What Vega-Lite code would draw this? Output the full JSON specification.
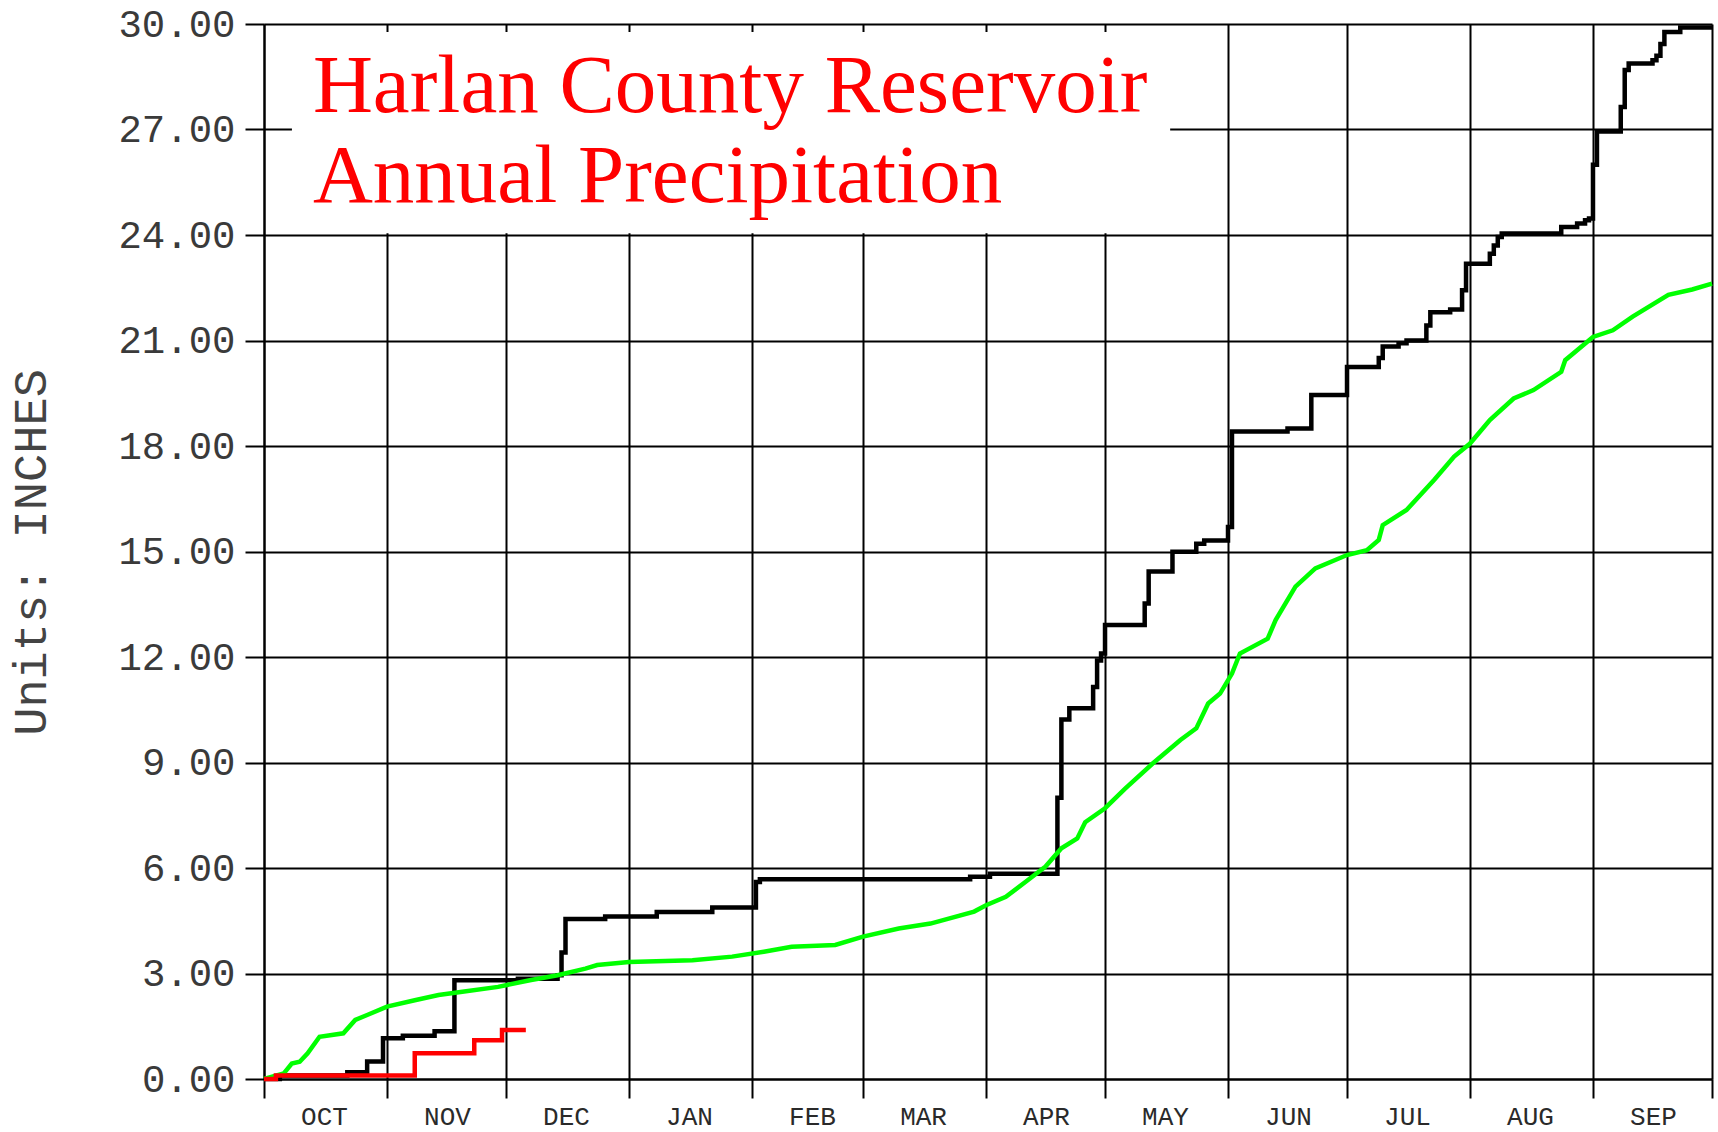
{
  "$schema": "https://vega.github.io/schema/vega-lite/v6.json",
  "width": 1448,
  "height": 1055,
  "autosize": {"type": "none"},
  "padding": {"left": 264, "top": 24, "right": 6, "bottom": 53},
  "background": "white",
  "view": {"stroke": null},
  "config": {
    "axis": {
      "gridColor": "#000000",
      "gridWidth": 2,
      "gridOpacity": 1,
      "domainColor": "#000000",
      "domainWidth": 2,
      "tickColor": "#000000",
      "tickWidth": 2,
      "tickSize": 19,
      "labelFlush": false,
      "labelOverlap": false,
      "labelBound": false
    }
  },
  "datasets": {
    "black": [
      {"date": "2013-10-01T00:00:00", "value": 0.0},
      {"date": "2013-10-05T00:00:00", "value": 0.1},
      {"date": "2013-10-22T00:00:00", "value": 0.19},
      {"date": "2013-10-27T00:00:00", "value": 0.5},
      {"date": "2013-10-31T00:00:00", "value": 1.16},
      {"date": "2013-11-05T00:00:00", "value": 1.23},
      {"date": "2013-11-13T00:00:00", "value": 1.36},
      {"date": "2013-11-18T00:00:00", "value": 2.81},
      {"date": "2013-12-04T00:00:00", "value": 2.85},
      {"date": "2013-12-14T00:00:00", "value": 2.95},
      {"date": "2013-12-15T00:00:00", "value": 3.6},
      {"date": "2013-12-16T00:00:00", "value": 4.55},
      {"date": "2013-12-26T00:00:00", "value": 4.62},
      {"date": "2014-01-08T00:00:00", "value": 4.75},
      {"date": "2014-01-22T00:00:00", "value": 4.88},
      {"date": "2014-02-02T00:00:00", "value": 5.6},
      {"date": "2014-02-03T00:00:00", "value": 5.68},
      {"date": "2014-03-28T00:00:00", "value": 5.75},
      {"date": "2014-04-02T00:00:00", "value": 5.84},
      {"date": "2014-04-19T00:00:00", "value": 8.0},
      {"date": "2014-04-20T00:00:00", "value": 10.22},
      {"date": "2014-04-22T00:00:00", "value": 10.54},
      {"date": "2014-04-28T00:00:00", "value": 11.15},
      {"date": "2014-04-29T00:00:00", "value": 11.9},
      {"date": "2014-04-30T00:00:00", "value": 12.1},
      {"date": "2014-05-01T00:00:00", "value": 12.91},
      {"date": "2014-05-11T00:00:00", "value": 13.52},
      {"date": "2014-05-12T00:00:00", "value": 14.43},
      {"date": "2014-05-18T00:00:00", "value": 14.99},
      {"date": "2014-05-24T00:00:00", "value": 15.22},
      {"date": "2014-05-26T00:00:00", "value": 15.31},
      {"date": "2014-06-01T00:00:00", "value": 15.7},
      {"date": "2014-06-02T00:00:00", "value": 18.41},
      {"date": "2014-06-16T00:00:00", "value": 18.5},
      {"date": "2014-06-22T00:00:00", "value": 19.45},
      {"date": "2014-07-01T00:00:00", "value": 20.25},
      {"date": "2014-07-09T00:00:00", "value": 20.5},
      {"date": "2014-07-10T00:00:00", "value": 20.83},
      {"date": "2014-07-14T00:00:00", "value": 20.92},
      {"date": "2014-07-16T00:00:00", "value": 21.0},
      {"date": "2014-07-21T00:00:00", "value": 21.43},
      {"date": "2014-07-22T00:00:00", "value": 21.8},
      {"date": "2014-07-27T00:00:00", "value": 21.88},
      {"date": "2014-07-30T00:00:00", "value": 22.43},
      {"date": "2014-07-31T00:00:00", "value": 23.18},
      {"date": "2014-08-06T00:00:00", "value": 23.47},
      {"date": "2014-08-07T00:00:00", "value": 23.7},
      {"date": "2014-08-08T00:00:00", "value": 23.94},
      {"date": "2014-08-09T00:00:00", "value": 24.04},
      {"date": "2014-08-24T00:00:00", "value": 24.23},
      {"date": "2014-08-28T00:00:00", "value": 24.33},
      {"date": "2014-08-30T00:00:00", "value": 24.42},
      {"date": "2014-08-31T00:00:00", "value": 24.47},
      {"date": "2014-09-01T00:00:00", "value": 26.0},
      {"date": "2014-09-02T00:00:00", "value": 26.94},
      {"date": "2014-09-08T00:00:00", "value": 27.64},
      {"date": "2014-09-09T00:00:00", "value": 28.69},
      {"date": "2014-09-10T00:00:00", "value": 28.88},
      {"date": "2014-09-16T00:00:00", "value": 28.97},
      {"date": "2014-09-17T00:00:00", "value": 29.1},
      {"date": "2014-09-18T00:00:00", "value": 29.43},
      {"date": "2014-09-19T00:00:00", "value": 29.77},
      {"date": "2014-09-23T00:00:00", "value": 29.9},
      {"date": "2014-10-01T00:00:00", "value": 29.9}
    ],
    "green": [
      {"date": "2013-10-01T00:00:00", "value": 0.0},
      {"date": "2013-10-06T00:00:00", "value": 0.16},
      {"date": "2013-10-08T00:00:00", "value": 0.44},
      {"date": "2013-10-10T00:00:00", "value": 0.49},
      {"date": "2013-10-12T00:00:00", "value": 0.73},
      {"date": "2013-10-15T00:00:00", "value": 1.2},
      {"date": "2013-10-21T00:00:00", "value": 1.3},
      {"date": "2013-10-24T00:00:00", "value": 1.68},
      {"date": "2013-10-27T00:00:00", "value": 1.82},
      {"date": "2013-11-01T00:00:00", "value": 2.06},
      {"date": "2013-11-08T00:00:00", "value": 2.24},
      {"date": "2013-11-14T00:00:00", "value": 2.39},
      {"date": "2013-11-20T00:00:00", "value": 2.48},
      {"date": "2013-11-29T00:00:00", "value": 2.62},
      {"date": "2013-12-07T00:00:00", "value": 2.81},
      {"date": "2013-12-14T00:00:00", "value": 2.95},
      {"date": "2013-12-21T00:00:00", "value": 3.14},
      {"date": "2013-12-24T00:00:00", "value": 3.24},
      {"date": "2014-01-01T00:00:00", "value": 3.33},
      {"date": "2014-01-17T00:00:00", "value": 3.38},
      {"date": "2014-01-27T00:00:00", "value": 3.48},
      {"date": "2014-02-04T00:00:00", "value": 3.62},
      {"date": "2014-02-11T00:00:00", "value": 3.76},
      {"date": "2014-02-22T00:00:00", "value": 3.81},
      {"date": "2014-03-01T00:00:00", "value": 4.05},
      {"date": "2014-03-10T00:00:00", "value": 4.28},
      {"date": "2014-03-18T00:00:00", "value": 4.42},
      {"date": "2014-03-29T00:00:00", "value": 4.76},
      {"date": "2014-04-01T00:00:00", "value": 4.94},
      {"date": "2014-04-06T00:00:00", "value": 5.18},
      {"date": "2014-04-11T00:00:00", "value": 5.61},
      {"date": "2014-04-16T00:00:00", "value": 6.04},
      {"date": "2014-04-20T00:00:00", "value": 6.56},
      {"date": "2014-04-24T00:00:00", "value": 6.84},
      {"date": "2014-04-26T00:00:00", "value": 7.3},
      {"date": "2014-05-01T00:00:00", "value": 7.7},
      {"date": "2014-05-06T00:00:00", "value": 8.25},
      {"date": "2014-05-13T00:00:00", "value": 8.97},
      {"date": "2014-05-20T00:00:00", "value": 9.64},
      {"date": "2014-05-24T00:00:00", "value": 9.97},
      {"date": "2014-05-27T00:00:00", "value": 10.68},
      {"date": "2014-05-30T00:00:00", "value": 10.96},
      {"date": "2014-06-02T00:00:00", "value": 11.53},
      {"date": "2014-06-04T00:00:00", "value": 12.1},
      {"date": "2014-06-11T00:00:00", "value": 12.52},
      {"date": "2014-06-13T00:00:00", "value": 13.05},
      {"date": "2014-06-18T00:00:00", "value": 14.0},
      {"date": "2014-06-23T00:00:00", "value": 14.52},
      {"date": "2014-07-01T00:00:00", "value": 14.9},
      {"date": "2014-07-06T00:00:00", "value": 15.04},
      {"date": "2014-07-09T00:00:00", "value": 15.33},
      {"date": "2014-07-10T00:00:00", "value": 15.75},
      {"date": "2014-07-16T00:00:00", "value": 16.18},
      {"date": "2014-07-23T00:00:00", "value": 17.04},
      {"date": "2014-07-28T00:00:00", "value": 17.7},
      {"date": "2014-08-01T00:00:00", "value": 18.07},
      {"date": "2014-08-06T00:00:00", "value": 18.74},
      {"date": "2014-08-12T00:00:00", "value": 19.35},
      {"date": "2014-08-17T00:00:00", "value": 19.59},
      {"date": "2014-08-24T00:00:00", "value": 20.11},
      {"date": "2014-08-25T00:00:00", "value": 20.44},
      {"date": "2014-09-01T00:00:00", "value": 21.1},
      {"date": "2014-09-06T00:00:00", "value": 21.29},
      {"date": "2014-09-11T00:00:00", "value": 21.68},
      {"date": "2014-09-20T00:00:00", "value": 22.3},
      {"date": "2014-09-26T00:00:00", "value": 22.45},
      {"date": "2014-10-01T00:00:00", "value": 22.62}
    ],
    "red": [
      {"date": "2013-10-01T00:00:00", "value": 0.0},
      {"date": "2013-10-04T00:00:00", "value": 0.1},
      {"date": "2013-11-08T00:00:00", "value": 0.73},
      {"date": "2013-11-23T00:00:00", "value": 1.1},
      {"date": "2013-11-30T00:00:00", "value": 1.39},
      {"date": "2013-12-06T00:00:00", "value": 1.39}
    ],
    "titleBox": [
      {"start": "2013-10-08T01:00:00", "end": "2014-05-17T10:00:00", "low": 24.05, "high": 29.77}
    ],
    "titleText": [
      {"date": "2013-10-13T08:00:00", "value": 27.5, "label": "Harlan County Reservoir"},
      {"date": "2013-10-13T08:00:00", "value": 24.94, "label": "Annual Precipitation"}
    ]
  },
  "encoding": {
    "x": {
      "field": "date",
      "type": "temporal",
      "scale": {
        "domain": [
          {"year": 2013, "month": 10, "date": 1},
          {"year": 2014, "month": 10, "date": 1}
        ],
        "nice": false
      },
      "axis": {
        "title": null,
        "values": [
          {"year": 2013, "month": 10, "date": 1},
          {"year": 2013, "month": 11, "date": 1},
          {"year": 2013, "month": 12, "date": 1},
          {"year": 2014, "month": 1, "date": 1},
          {"year": 2014, "month": 2, "date": 1},
          {"year": 2014, "month": 3, "date": 1},
          {"year": 2014, "month": 4, "date": 1},
          {"year": 2014, "month": 5, "date": 1},
          {"year": 2014, "month": 6, "date": 1},
          {"year": 2014, "month": 7, "date": 1},
          {"year": 2014, "month": 8, "date": 1},
          {"year": 2014, "month": 9, "date": 1},
          {"year": 2014, "month": 10, "date": 1}
        ],
        "labelExpr": "datum.value >= datetime(2014, 9, 1) ? '' : upper(timeFormat(datum.value, '%b'))",
        "labelOffset": 60,
        "labelAlign": "center",
        "labelBaseline": "middle",
        "labelPadding": 18,
        "labelFont": "Liberation Mono",
        "labelFontSize": 26,
        "labelColor": "#2a2a2a",
        "grid": true
      }
    },
    "y": {
      "field": "value",
      "type": "quantitative",
      "scale": {"domain": [0, 30], "nice": false, "zero": true},
      "axis": {
        "title": "Units: INCHES",
        "values": [0, 3, 6, 9, 12, 15, 18, 21, 24, 27, 30],
        "format": ".2f",
        "labelFont": "Liberation Mono",
        "labelFontSize": 39,
        "labelColor": "#3a3a3a",
        "labelPadding": 10,
        "grid": true,
        "titleFont": "Liberation Mono",
        "titleFontSize": 47,
        "titleFontWeight": "normal",
        "titleColor": "#444444",
        "titleAngle": -90,
        "titleAlign": "center",
        "titleBaseline": "middle",
        "titleX": -233,
        "titleY": 528
      }
    }
  },
  "layer": [
    {
      "data": {"name": "black"},
      "mark": {"type": "line", "interpolate": "step-after", "color": "#000000", "strokeWidth": 4.5},
      "encoding": {}
    },
    {
      "data": {"name": "green"},
      "mark": {"type": "line", "interpolate": "linear", "color": "#00ff00", "strokeWidth": 4.5},
      "encoding": {}
    },
    {
      "data": {"name": "red"},
      "mark": {"type": "line", "interpolate": "step-after", "color": "#ff0000", "strokeWidth": 4.5},
      "encoding": {}
    },
    {
      "data": {"name": "titleBox"},
      "mark": {"type": "rect", "color": "#ffffff", "opacity": 1},
      "encoding": {
        "x": {"field": "start", "type": "temporal"},
        "x2": {"field": "end"},
        "y": {"field": "low", "type": "quantitative"},
        "y2": {"field": "high"}
      }
    },
    {
      "data": {"name": "titleText"},
      "mark": {"type": "text", "font": "Liberation Serif", "fontSize": 83, "color": "#ff0000", "align": "left", "baseline": "alphabetic"},
      "encoding": {
        "text": {"field": "label"}
      }
    }
  ]
}
